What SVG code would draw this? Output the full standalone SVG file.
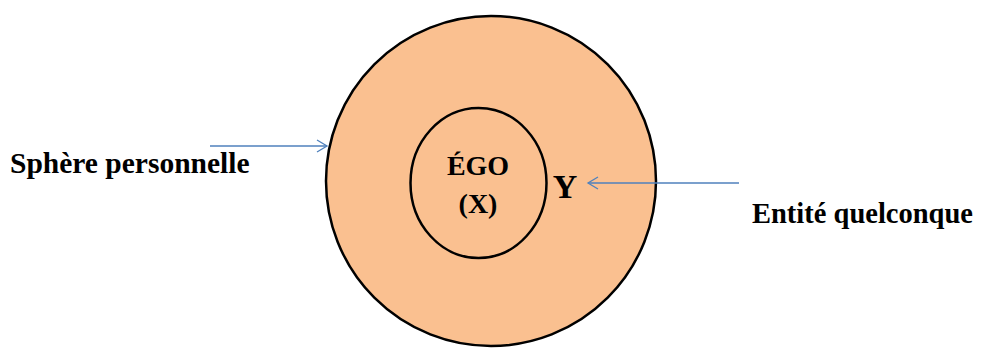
<svg xmlns="http://www.w3.org/2000/svg" width="981" height="349" viewBox="0 0 981 349">
<style>
.t{font-family:"Liberation Serif","Times New Roman",serif;font-weight:bold;fill:#000}
.ring{fill:#fac090;stroke:#000;stroke-width:2.5}
.arr{stroke:#4f81bd;stroke-width:1.3;fill:none}
</style>
<defs>
<marker id="ah" markerWidth="14" markerHeight="14" refX="11" refY="7" orient="auto" markerUnits="userSpaceOnUse">
<path d="M1,1 L11,7 L1,13" fill="none" stroke="#4f81bd" stroke-width="1.3"/>
</marker>
</defs>
<g id="sphere">
<circle class="ring" cx="491" cy="181" r="165"/>
</g>
<g id="ego">
<ellipse class="ring" cx="478.5" cy="183" rx="68" ry="75"/>
<text class="t" x="478" y="175" font-size="28" text-anchor="middle">ÉGO</text>
<text class="t" x="478" y="213" font-size="28" text-anchor="middle">(X)</text>
</g>
<g id="y">
<text class="t" x="565" y="198" font-size="34" text-anchor="middle">Y</text>
</g>
<g id="label-sphere">
<text class="t" x="10" y="173" font-size="29.5">Sphère personnelle</text>
</g>
<g id="label-entite">
<text class="t" x="752" y="223" font-size="28.5">Entité quelconque</text>
</g>
<g id="connectors">
<line class="arr" x1="210" y1="146" x2="327" y2="146" marker-end="url(#ah)"/>
<line class="arr" x1="739" y1="183" x2="588" y2="183" marker-end="url(#ah)"/>
</g>
</svg>
